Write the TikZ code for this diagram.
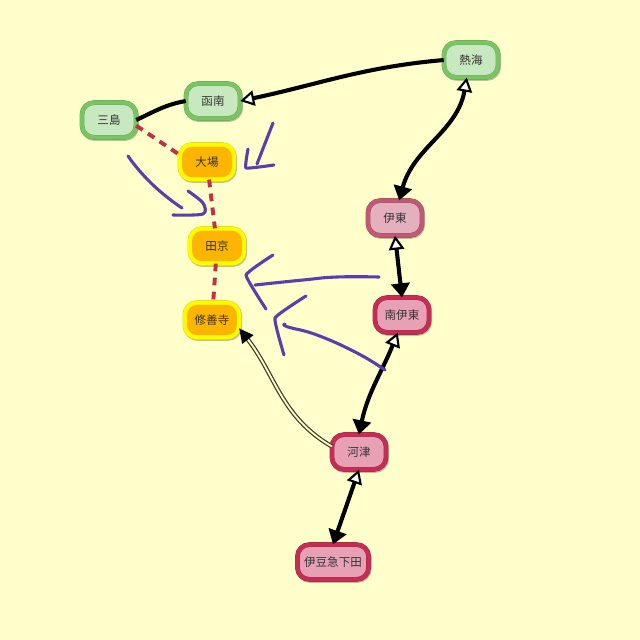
\documentclass[tikz,border=0pt]{standalone}
\usepackage{fontspec}
\usepackage{xcolor}
\usepackage{tikz}
\usetikzlibrary{arrows.meta,shadows}
\setmainfont{Noto Sans CJK JP}
\definecolor{paper}{RGB}{255,255,204}
\definecolor{greenline}{RGB}{122,196,100}
\definecolor{greenfill}{RGB}{200,232,192}
\definecolor{goldline}{RGB}{255,250,0}
\definecolor{goldfill}{RGB}{255,180,0}
\definecolor{redline}{RGB}{196,46,84}
\definecolor{redfill}{RGB}{232,160,180}
\definecolor{roseline}{RGB}{192,90,116}
\definecolor{rosefill}{RGB}{228,176,190}
\definecolor{dashred}{RGB}{190,50,70}
\definecolor{pen}{RGB}{92,62,170}

\begin{document}
\begin{tikzpicture}[
    x=0.025cm, y=-0.025cm,
    station/.style={draw=#1!85!black, line width=0.3pt, double=#1, double distance=2.8pt, rounded corners=8.5pt, minimum width=1.35cm, minimum height=0.87cm, inner sep=1pt, align=center, font=\fontsize{8.2}{10}\selectfont, text=black!80, drop shadow={shadow xshift=0.6pt, shadow yshift=-0.9pt, fill=black, draw=black, line width=3.2pt, opacity=0.25}},
    greenbox/.style={station=greenline, fill=greenfill},
    goldbox/.style={station=goldline, fill=goldfill},
    rosebox/.style={station=roseline, fill=rosefill},
    redbox/.style={station=redline, fill=redfill},
    track/.style={line width=2.9pt, black},
    oneway/.style={track, -{Triangle[open, fill=white, length=10pt, width=11pt, line width=1.5pt]}},
    bothway/.style={track, {Triangle[open, fill=white, length=10pt, width=11pt, line width=1.5pt]}-{Triangle[length=10pt, width=13pt]}},
    planned/.style={line width=2.8pt, dashred, dash pattern=on 5.5pt off 4.5pt},
    branch/.style={draw=black!70!olive, double=paper, line width=0.9pt, double distance=1.3pt, -{Triangle[length=10pt, width=10pt, black]}},
    stroke/.style={pen, line width=2.2pt, line cap=round, line join=round}
  ]
    \fill[paper] (0,0) rectangle (640,640);
    \useasboundingbox (0,0) rectangle (640,640);
    \node[greenbox] (mishima) at (109,120) {三島};
    \node[greenbox] (kannami) at (213,101) {函南};
    \node[greenbox] (atami) at (471,60) {熱海};
    \node[goldbox] (ohito) at (207,162) {大場};
    \node[goldbox] (takyo) at (217,246) {田京};
    \node[goldbox] (shuzenji) at (212,320) {修善寺};
    \node[rosebox] (ito) at (395,218) {伊東};
    \node[redbox] (minamiito) at (402,315) {南伊東};
    \node[redbox] (kawazu) at (359,452) {河津};
    \node[redbox, minimum width=1.78cm] (shimoda) at (333,562) {伊豆急下田};
    \draw[track] (mishima.east) to[out=25, in=190] (kannami.west);
    \draw[oneway] (atami.west) to[out=185, in=12] (kannami.east);
    \draw[bothway] ([xshift=-3pt]atami.south) to[out=-100, in=75] ([xshift=3pt]ito.north);
    \draw[bothway] (ito.south) -- (minamiito.north);
    \draw[bothway] ([xshift=-3pt]minamiito.south) to[out=-112, in=78] (kawazu.north);
    \draw[bothway] (kawazu.south) -- (shimoda.north);
    \draw[planned] ([yshift=-4pt]mishima.east) -- ([yshift=5pt]ohito.west);
    \draw[planned] (ohito) -- (takyo);
    \draw[planned] (takyo) -- (shuzenji);
    \draw[branch] ([yshift=4pt]kawazu.west) to[out=150, in=-52] ([yshift=-6pt]shuzenji.east);
    \draw[stroke] plot[smooth, tension=1] coordinates {(128,156) (152,184) (182,208)};
    \draw[stroke] plot[smooth, tension=0.5] coordinates {(188,191) (203,203) (203,214) (173,215)};
    \draw[stroke] plot[smooth] coordinates {(273,123) (257,164)};
    \draw[stroke] plot[smooth, tension=0.2] coordinates {(248,149) (246,168) (274,165)};
    \draw[stroke] plot[smooth, tension=0.8] coordinates {(379,277) (337,277) (303,280) (255,285)};
    \draw[stroke] plot[smooth, tension=0.2] coordinates {(273,255) (246,275) (266,309)};
    \draw[stroke] plot[smooth, tension=0.2] coordinates {(306,296) (275,318) (284,355)};
    \draw[stroke] plot[smooth, tension=0.8] coordinates {(385,370) (357,353) (317,335) (288,327) (285,324)};
  \end{tikzpicture}
\end{document}
